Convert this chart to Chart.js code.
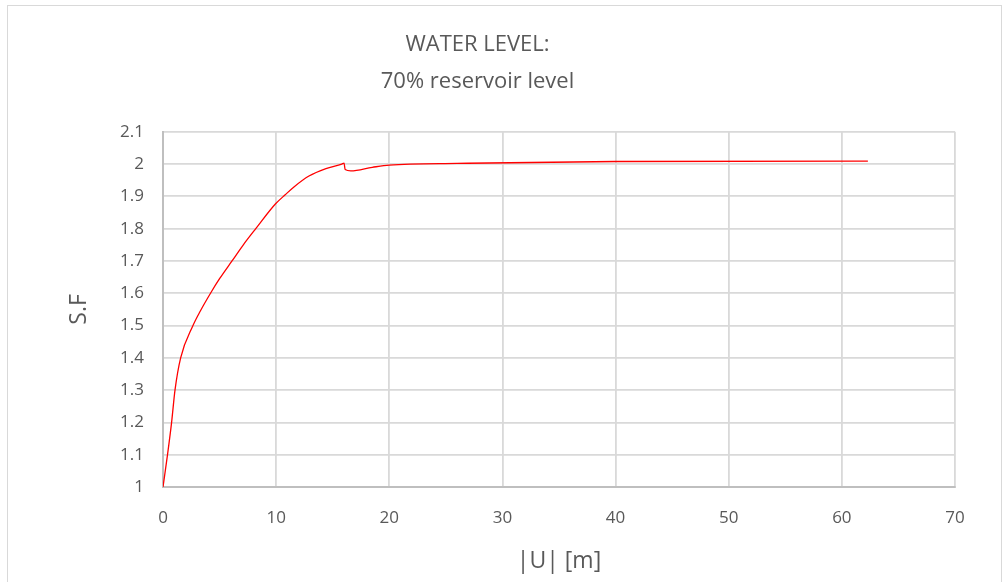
<!DOCTYPE html>
<html>
<head>
  <title>Water level 70%</title>
  <script src="https://cdn.jsdelivr.net/npm/chart.js"></script>
  <style>
    body { margin: 0; background: #fff; font-family: "Open Sans", sans-serif; }
    #frame { position: absolute; left: 7px; top: 5px; width: 993px; height: 590px; border: 1px solid #d9d9d9; }
    #wrap { position: absolute; left: 0; top: 0; width: 1002px; height: 582px; }
  </style>
</head>
<body>
  <div id="frame"></div>
  <div id="wrap"><canvas id="chart" width="1002" height="582"></canvas></div>

  <script>
    // displacement |U| [m] and safety factor
    const displacement = [0, 0.4, 0.76, 1.06, 1.56, 2.65, 3.3, 4.2, 5.0, 6.1, 7.1, 8.2, 9.95, 10.8, 11.6, 12.9, 14.4, 15.8, 16.0, 16.1, 16.6, 18.5, 20, 26, 40, 62.3];
    const safetyFactor = [1.0, 1.1, 1.2, 1.3, 1.4, 1.5, 1.545, 1.6, 1.645, 1.70, 1.75, 1.80, 1.877, 1.905, 1.93, 1.963, 1.986, 2.0, 2.003, 1.983, 1.979, 1.990, 1.997, 2.002, 2.008, 2.009];

    const titleLines = ['WATER LEVEL:', '70% reservoir level'];
    const xTitle = '|U| [m]';
    const yTitle = 'S.F';

    const textColor = '#595959';
    const gridColor = '#d9d9d9';

    new Chart(document.getElementById('chart').getContext('2d'), {
      type: 'line',
      data: {
        datasets: [{
          data: displacement.map((u, i) => ({ x: u, y: safetyFactor[i] })),
          borderColor: '#ff0000',
          borderWidth: 1.3,
          pointRadius: 0,
          fill: false,
          cubicInterpolationMode: 'monotone'
        }]
      },
      options: {
        responsive: false,
        animation: false,
        layout: { padding: { top: 0, right: 47, bottom: 0, left: 0 } },
        plugins: {
          legend: { display: false },
          tooltip: { enabled: false },
          title: {
            display: true,
            text: titleLines,
            color: textColor,
            font: { family: 'Open Sans', size: 22, weight: 'normal', lineHeight: 1.7 },
            padding: { top: 26, bottom: 31 }
          }
        },
        scales: {
          x: {
            type: 'linear',
            min: 0,
            max: 70,
            ticks: { stepSize: 10, color: textColor, font: { family: 'Open Sans', size: 17 }, padding: 21 },
            grid: { color: gridColor, lineWidth: 1.8, drawTicks: false },
            border: { color: '#bfbfbf', width: 2 },
            title: { display: true, text: xTitle, color: textColor, font: { family: 'Open Sans', size: 23 }, padding: { top: 0, bottom: 7 } },
            afterFit: scale => { scale.height = 95; }
          },
          y: {
            min: 1,
            max: 2.1,
            ticks: {
              stepSize: 0.1,
              color: textColor,
              font: { family: 'Open Sans', size: 17 },
              padding: 19,
              callback: v => String(Number(v.toFixed(1)))
            },
            grid: { color: gridColor, lineWidth: 1.8, drawTicks: false },
            border: { color: '#bfbfbf', width: 2 },
            title: { display: true, text: yTitle, color: textColor, font: { family: 'Open Sans', size: 23 }, padding: { top: 66, bottom: 0 } },
            afterFit: scale => { scale.width = 163; }
          }
        }
      }
    });
  </script>
</body>
</html>
